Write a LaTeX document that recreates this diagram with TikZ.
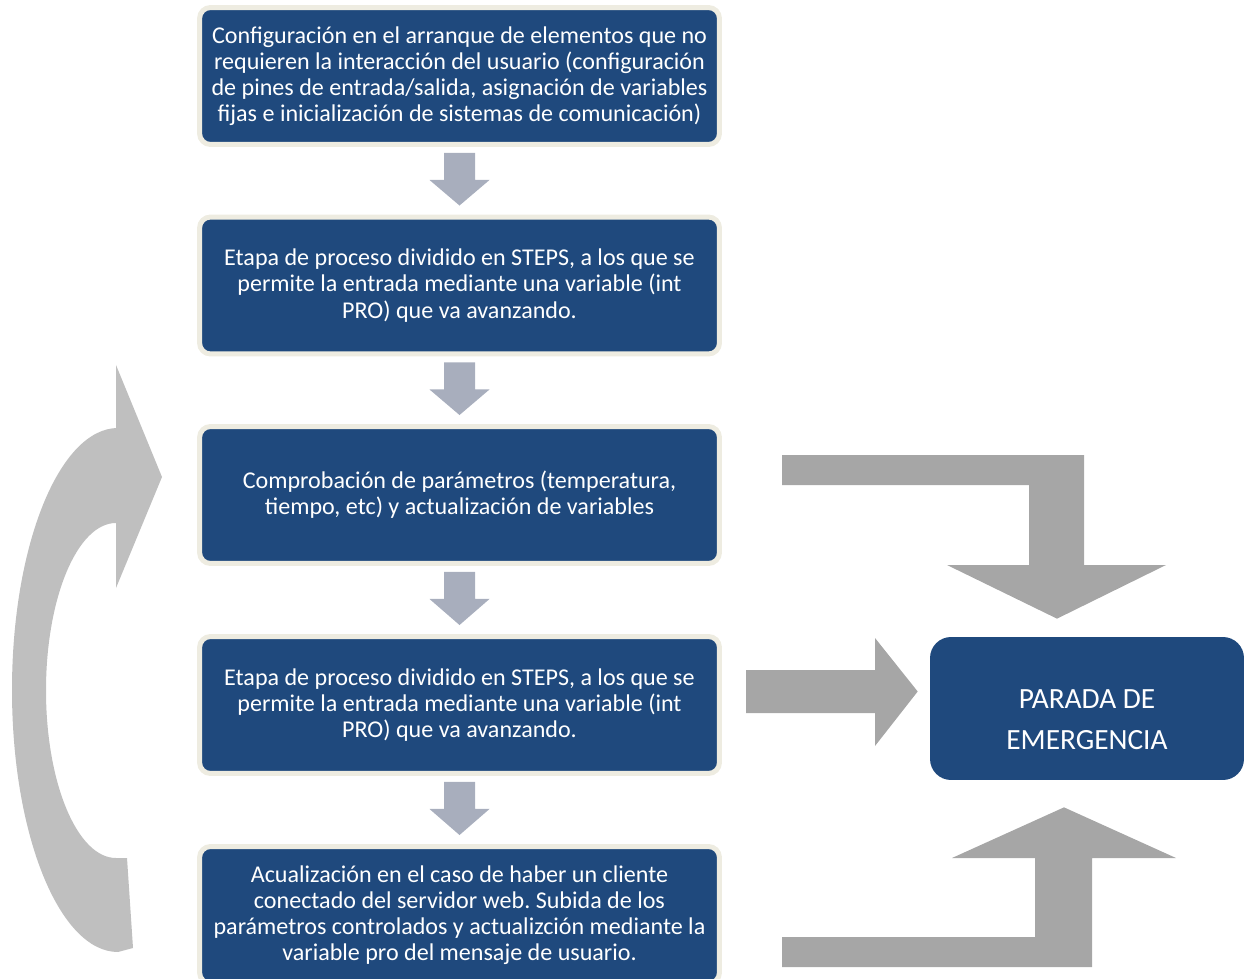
\documentclass[tikz,border=0pt]{standalone}
\usepackage{fontspec}
\setmainfont{Carlito}
\usetikzlibrary{calc}
\frenchspacing
\definecolor{boxblue}{HTML}{1F497D}
\definecolor{boxrim}{HTML}{EEECE1}
\definecolor{flowarrow}{HTML}{A8AEBD}
\definecolor{bigarrow}{HTML}{A6A6A6}
\definecolor{looparrow}{HTML}{BFBFBF}
\newcommand\flowdown[2]{%
  \fill[flowarrow] ($(#1.south)+(-15.5,-6)$) -- ++(31,0) -- ++(0,-27) -- ++(14.5,0)
    -- ($(#2.north)+(0,9)$) -- ($(#1.south)+(-30,-33)$) -- ++(14.5,0) -- cycle;}
\begin{document}
\frenchspacing
\begin{tikzpicture}[x=0.02cm,y=0.02cm,
  stepbox/.style={draw=boxrim, line width=0.1cm, fill=boxblue, rounded corners=0.22cm,
    minimum width=10.4cm, minimum height=2.74cm, text=white, align=center,
    font=\fontsize{13.7}{14.9}\selectfont\frenchspacing, inner sep=0pt},
  emergbox/.style={fill=boxblue, rounded corners=0.42cm, minimum width=6.28cm,
    minimum height=2.86cm, inner sep=0pt},
  emergtext/.style={text=white, align=center, font=\fontsize{16.7}{23.3}\selectfont, inner sep=0pt}]
\useasboundingbox (0,0) rectangle (1250,-979);
\clip (0,0) rectangle (1250,-979);

% left loop arrow
\fill[looparrow] (116,-365) -- (162,-477) -- (116,-588) -- (116,-523)
  arc[start angle=90, end angle=270, x radius=70, y radius=167.5]
  -- (127,-858) -- (133,-948) -- (118,-952)
  arc[start angle=270, end angle=90, x radius=106, y radius=262]
  -- (116,-430) -- cycle;

\node[stepbox] (b1) at (459.5,-76) {Configuración en el arranque de elementos que no\\requieren la interacción del usuario (configuración\\de pines de entrada/salida, asignación de variables\\fijas e inicialización de sistemas de comunicación)};
\node[stepbox] (b2) at (459.5,-285.5) {Etapa de proceso dividido en STEPS, a los que se\\permite la entrada mediante una variable (int\\PRO) que va avanzando.};
\node[stepbox] (b3) at (459.5,-495) {Comprobación de parámetros (temperatura,\\tiempo, etc) y actualización de variables};
\node[stepbox] (b4) at (459.5,-705) {Etapa de proceso dividido en STEPS, a los que se\\permite la entrada mediante una variable (int\\PRO) que va avanzando.};
\node[stepbox] (b5) at (459.5,-915) {Acualización en el caso de haber un cliente\\conectado del servidor web. Subida de los\\parámetros controlados y actualizción mediante la\\variable pro del mensaje de usuario.};

\flowdown{b1}{b2}
\flowdown{b2}{b3}
\flowdown{b3}{b4}
\flowdown{b4}{b5}

\node[emergbox] (E) at (1087,-708.5) {};
\node[emergtext] (Et) at ($(E.center)+(0,-11)$) {PARADA DE\\EMERGENCIA};

% b3 -> E (bent, from above)
\fill[bigarrow] (782,-455) -- (1084,-455) -- (1084,-565) -- (1166,-565) -- ($(E.north)+(-30,18)$)
  -- (947,-565) -- (1029,-565) -- (1029,-485) -- (782,-485) -- cycle;
% b4 -> E (straight)
\fill[bigarrow] (746,-670) -- (875,-670) -- (875,-638) -- ($(E.west)+(-12,17)$)
  -- (875,-746) -- (875,-713) -- (746,-713) -- cycle;
% b5 -> E (bent, from below)
\fill[bigarrow] (782,-967) -- (1092,-967) -- (1092,-858) -- (1176,-858) -- ($(E.south)+(-23,-27)$)
  -- (952,-858) -- (1035,-858) -- (1035,-937) -- (782,-937) -- cycle;
\end{tikzpicture}
\end{document}
